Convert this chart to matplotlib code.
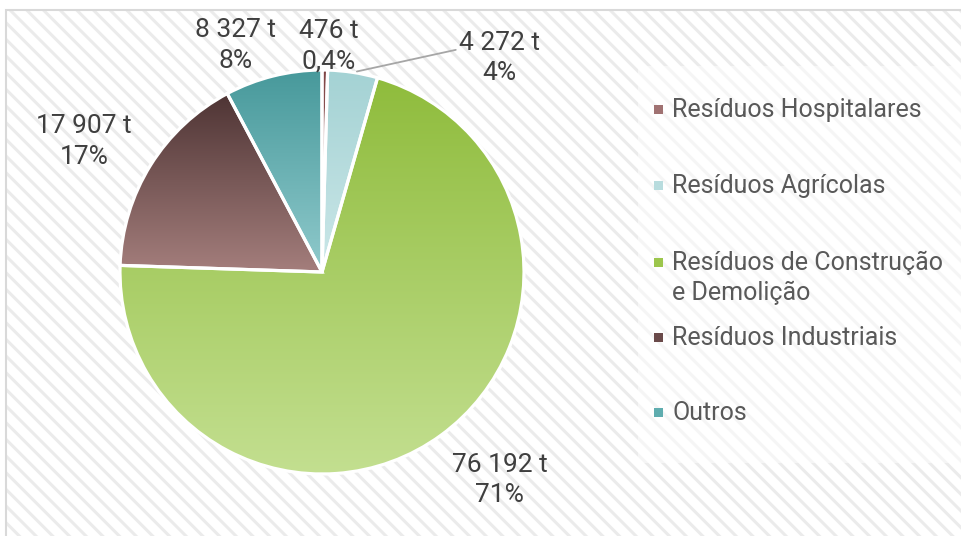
import numpy as np
import matplotlib
matplotlib.use("Agg")
import matplotlib.pyplot as plt
from matplotlib.patches import Rectangle
from matplotlib.colors import LinearSegmentedColormap

# ---- data ----
categories = ["Resíduos Hospitalares", "Resíduos Agrícolas",
              "Resíduos de Construção\ne Demolição", "Resíduos Industriais", "Outros"]
tonnes = [476, 4272, 76192, 17907, 8327]
tonne_labels = ["476 t", "4 272 t", "76 192 t", "17 907 t", "8 327 t"]
pct_labels = ["0,4%", "4%", "71%", "17%", "8%"]

# ---- styles ----
grad_top = ["#7e4444", "#a4d2d4", "#8fbc3c", "#4e3434", "#47999b"]
grad_bot = ["#b58585", "#cbe7e8", "#c3df90", "#a47e7c", "#90cacc"]
legend_col = ["#a07272", "#b8dcde", "#9cc64c", "#6a4a4a", "#5fadaf"]
# label positions (angle in degrees, radius in pie units)
label_pos = [(88.3, 1.12), (50.4, 1.375), (-49.5, 1.355), (151.3, 1.343), (111.0, 1.20)]

plt.rcParams['font.family'] = ['Roboto', 'DejaVu Sans']
plt.rcParams['hatch.linewidth'] = 2.2

W, H = 962, 536
fig = plt.figure(figsize=(W / 100, H / 100), dpi=100)
fig.patch.set_facecolor("white")

def fx(px):
    return px / W

def fy(py):
    return 1 - py / H

# hatched background
bg = Rectangle((fx(6), 0), 1 - fx(6), fy(10), transform=fig.transFigure,
               facecolor="white", edgecolor="#ebebeb", hatch="\\\\", linewidth=0, zorder=-3)
fig.patches.append(bg)
border = Rectangle((fx(6), -0.01), 1.01 - fx(6), fy(10) + 0.01, transform=fig.transFigure,
                   facecolor="none", edgecolor="#d9d9d9", linewidth=1.5, zorder=-2)
fig.patches.append(border)
# legend area
leg_bg = Rectangle((fx(638), fy(463)), 1 - fx(638), fy(66) - fy(463), transform=fig.transFigure,
                   facecolor="white", edgecolor="none", alpha=0.5, zorder=-1)
fig.patches.append(leg_bg)

# pie axes
cx, cy, R = 322, 272, 202
ax = fig.add_axes([fx(cx - R), fy(cy + R), 2 * R / W, 2 * R / H])
ax.set_axis_off()
ax.patch.set_alpha(0)
ax.set_zorder(2)

wedges, _ = ax.pie(tonnes, startangle=90, counterclock=False, radius=1,
                   wedgeprops=dict(edgecolor="white", linewidth=2.3, facecolor="none"))
grad = np.linspace(0, 1, 256).reshape(-1, 1)
for w, c1, c2 in zip(wedges, grad_top, grad_bot):
    ext = w.get_path().get_extents(w.get_patch_transform())
    cmap = LinearSegmentedColormap.from_list("g", [c1, c2])
    im = ax.imshow(grad, extent=[ext.x0, ext.x1, ext.y0, ext.y1], origin="upper",
                   cmap=cmap, aspect="auto", interpolation="bicubic", zorder=1)
    im.set_clip_path(w)
    w.set_zorder(2)
ax.set_xlim(-1, 1)
ax.set_ylim(-1, 1)
ax.set_aspect("auto")

# data labels
lab_kw = dict(ha="center", va="center", fontsize=19, color="#3f3f3f",
              linespacing=1.35, fontweight="normal")
for i, (ang, r) in enumerate(label_pos):
    a = np.deg2rad(ang)
    tx, ty = r * np.cos(a), r * np.sin(a)
    txt = f"{tonne_labels[i]}\n{pct_labels[i]}"
    if i == 1:
        w = wedges[i]
        mid = np.deg2rad((w.theta1 + w.theta2) / 2)
        ax.annotate(txt, xy=(np.cos(mid), np.sin(mid)), xytext=(tx, ty),
                    annotation_clip=False,
                    arrowprops=dict(arrowstyle="-", color="#a6a6a6", lw=1.3,
                                    shrinkA=0, shrinkB=3, relpos=(0, 0.66)),
                    **lab_kw)
    else:
        ax.text(tx, ty, txt, clip_on=False, **lab_kw)

# legend (manual layout)
row_first = [109, 185, 262, 337, 412]
for lab, col, yc in zip(categories, legend_col, row_first):
    fig.patches.append(Rectangle((fx(654), fy(yc + 4.5)), 9 / W, 9 / H,
                                 transform=fig.transFigure, facecolor=col,
                                 edgecolor="none", zorder=3))
    fig.text(fx(672), fy(yc - 11), lab, ha="left", va="top", fontsize=18, color="#595959",
             linespacing=1.3, zorder=3, transform=fig.transFigure)

fig.savefig("out.png", dpi=100, facecolor="white")
